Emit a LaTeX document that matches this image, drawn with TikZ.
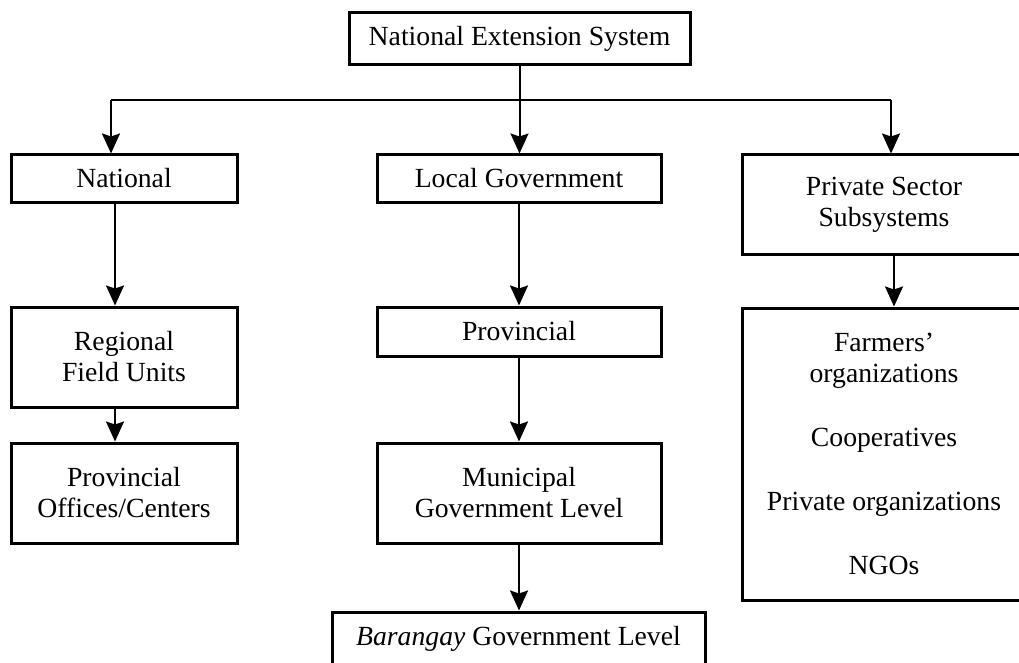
\documentclass[tikz,border=0pt]{standalone}
\usepackage{fontspec}
\setmainfont{Liberation Serif}
\usetikzlibrary{arrows.meta}
\begin{document}
\begin{tikzpicture}[x=1pt,y=-1pt,
  box/.style={draw, line width=3pt, inner sep=0pt, align=center,
    font=\fontsize{27.7}{31}\selectfont},
  conn/.style={line width=2pt},
  arr/.style={conn, -{Stealth[length=20pt,width=18pt,inset=3pt]}}]
\useasboundingbox (0,0) rectangle (1019,663);
\clip (0,0) rectangle (1019,663);
\node[box, minimum width=341pt, minimum height=52pt] (top) at (519.5,39) {National Extension System};
\node[box, minimum width=226pt, minimum height=47pt] (nat) at (124,178.5) {National};
\node[box, minimum width=284pt, minimum height=47pt] (loc) at (519,178.5) {Local Government};
\node[box, minimum width=284pt, minimum height=99pt] (priv) at (884,204.5) {Private Sector\\Subsystems};
\node[box, minimum width=226pt, minimum height=100pt] (reg) at (124,357) {Regional\\Field Units};
\node[box, minimum width=226pt, minimum height=100pt] (poff) at (124,493) {Provincial\\Offices/Centers};
\node[box, minimum width=284pt, minimum height=49pt] (prov) at (519,331.5) {Provincial};
\node[box, minimum width=284pt, minimum height=100pt] (mun) at (519,493) {Municipal\\Government Level};
\node[box, minimum width=373pt, minimum height=54pt] (bar) at (518.5,639) {\textit{Barangay} Government Level};
\node[box, minimum width=284pt, minimum height=292pt] (farm) at (884,454) {Farmers’\\organizations\\[33pt]Cooperatives\\[33pt]Private organizations\\[33pt]NGOs};
% connectors
\coordinate (jl) at (111,100);
\coordinate (jr) at (891,100);
\coordinate (cl) at (115,0);
\coordinate (cr) at (894,0);
\draw[conn] (jl) -- (jr);
\draw[arr] (jl) -- (jl |- nat.north);
\draw[arr] (jr) -- (jr |- priv.north);
\draw[arr] (top.south) -- (top.south |- loc.north);
\draw[arr] (cl |- nat.south) -- (cl |- reg.north);
\draw[arr] (cl |- reg.south) -- (cl |- poff.north);
\draw[arr] (loc.south) -- (prov.north);
\draw[arr] (prov.south) -- (mun.north);
\draw[arr] (mun.south) -- (mun.south |- bar.north);
\draw[arr] (cr |- priv.south) -- (cr |- farm.north);
\end{tikzpicture}
\end{document}
